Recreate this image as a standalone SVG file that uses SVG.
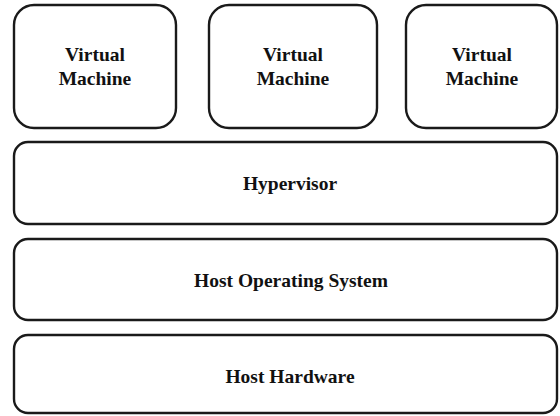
<svg xmlns="http://www.w3.org/2000/svg" width="560" height="416" viewBox="0 0 560 416">
<style>
.box{fill:#fff;stroke:#1a1a1a;stroke-width:2.4}
.t{font-family:'Liberation Serif','Times New Roman',Times,'DejaVu Serif',serif;font-weight:bold;font-size:19.5px;fill:#111;text-anchor:middle}
</style>
<rect width="560" height="416" fill="#fff"/>
<g id="vm1"><rect class="box" x="14" y="5" width="162" height="123" rx="20"/><text class="t" x="95" y="61">Virtual</text><text class="t" x="95" y="85">Machine</text></g>
<g id="vm2"><rect class="box" x="209" y="5" width="168" height="123" rx="20"/><text class="t" x="293" y="61">Virtual</text><text class="t" x="293" y="85">Machine</text></g>
<g id="vm3"><rect class="box" x="406" y="5" width="151" height="123" rx="20"/><text class="t" x="482" y="61">Virtual</text><text class="t" x="482" y="85">Machine</text></g>
<g id="hypervisor"><rect class="box" x="14" y="142" width="543" height="82" rx="14"/><text class="t" x="290" y="190">Hypervisor</text></g>
<g id="hostos"><rect class="box" x="14" y="239" width="543" height="81" rx="14"/><text class="t" x="291" y="287">Host Operating System</text></g>
<g id="hosthw"><rect class="box" x="14" y="335" width="543" height="78" rx="14"/><text class="t" x="290" y="383">Host Hardware</text></g>
<g id="connectors"/>
</svg>
